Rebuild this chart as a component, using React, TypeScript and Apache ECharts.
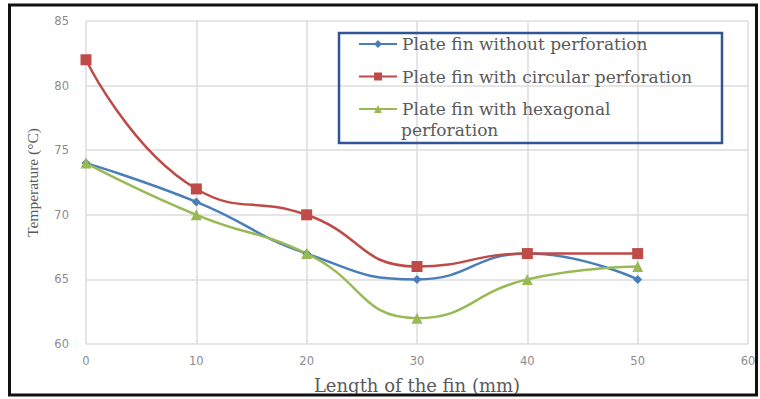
import React, { useEffect, useRef } from "react";
import * as echarts from "echarts";

// Fin length along the x axis (mm)
const finLength = [0, 10, 20, 30, 40, 50];

// Temperatures (°C) for each fin type
const plainFin = [74, 71, 67, 65, 67, 65];
const circularFin = [82, 72, 70, 66, 67, 67];
const hexagonalFin = [74, 70, 67, 62, 65, 66];

const seriesNames = [
  "Plate fin without perforation",
  "Plate fin with circular perforation",
  "Plate fin with hexagonal perforation",
];

const xTicks = { min: 0, max: 60, interval: 10 };
const yTicks = { min: 60, max: 85, interval: 5 };

const SERIF = "'DejaVu Serif', 'Liberation Serif', serif";
const SANS = "'DejaVu Sans', sans-serif";
const LEGEND_FONT = 17;

export default function App() {
  const ref = useRef<HTMLDivElement>(null);

  useEffect(() => {
    if (!ref.current) return;
    const chart = echarts.init(ref.current, undefined, { renderer: "svg" });

    const pairs = (ys: number[]) => finLength.map((x, i) => [x, ys[i]]);

    const lineSeries = (
      name: string,
      ys: number[],
      color: string,
      symbol: string,
      symbolSize: number
    ) => ({
      name,
      type: "line",
      data: pairs(ys),
      smooth: 0.5,
      symbol,
      symbolSize,
      showSymbol: true,
      lineStyle: { color, width: 2.5 },
      itemStyle: { color },
      z: 3,
    });

    chart.setOption({
      animation: false,
      backgroundColor: "#ffffff",
      grid: { left: 86, right: 12, top: 21, bottom: 44 },
      xAxis: {
        type: "value",
        ...xTicks,
        name: "Length of the fin (mm)",
        nameLocation: "middle",
        nameGap: 32,
        nameTextStyle: { fontFamily: SERIF, fontSize: 18, color: "#5a5a5a" },
        axisLine: { show: false },
        axisTick: { show: false },
        axisLabel: { fontFamily: SANS, fontSize: 11.5, color: "#8c8c8c", margin: 11 },
        splitLine: { show: true, lineStyle: { color: "#dcdcdc", width: 1.5 } },
      },
      yAxis: {
        type: "value",
        ...yTicks,
        name: "Temperature (°C)",
        nameLocation: "middle",
        nameGap: 46,
        nameTextStyle: { fontFamily: "'Liberation Serif', serif", fontSize: 15.5, color: "#5a5a5a" },
        axisLine: { show: false },
        axisTick: { show: false },
        axisLabel: { fontFamily: SANS, fontSize: 11.5, color: "#8c8c8c", margin: 17 },
        splitLine: { show: true, lineStyle: { color: "#dcdcdc", width: 1.5 } },
      },
      legend: {
        orient: "vertical",
        left: 358,
        top: 35.5,
        padding: 0,
        itemWidth: 38,
        itemHeight: 10,
        itemGap: 15.5,
        textStyle: { fontFamily: SERIF, fontSize: LEGEND_FONT, color: "#5a5a5a", lineHeight: 17 },
        formatter: (name: string) =>
          name === seriesNames[2] ? "Plate fin with hexagonal" : name,
        data: seriesNames,
      },
      graphic: [
        {
          type: "rect",
          shape: { x: 339, y: 33, width: 383, height: 110 },
          style: { fill: "none", stroke: "#2f5597", lineWidth: 2.5 },
          z: 10,
        },
        {
          // wrapped second line of the third legend entry
          type: "text",
          x: 401,
          y: 130,
          style: {
            text: "perforation",
            font: `${LEGEND_FONT}px ${SERIF}`,
            fill: "#5a5a5a",
            verticalAlign: "middle",
          },
          z: 10,
        },
        {
          type: "rect",
          shape: { x: 9.5, y: 5, width: 747, height: 390 },
          style: { fill: "none", stroke: "#111111", lineWidth: 3 },
          z: 10,
        },
      ],
      series: [
        lineSeries(seriesNames[0], plainFin, "#4a7ebb", "diamond", 9),
        lineSeries(seriesNames[1], circularFin, "#be4b48", "rect", 11),
        lineSeries(seriesNames[2], hexagonalFin, "#98b954", "triangle", 11),
      ],
    });

    return () => chart.dispose();
  }, []);

  return (
    <div
      ref={ref}
      style={{ position: "absolute", left: 0, top: 0, width: 760, height: 399, background: "#fff" }}
    />
  );
}
